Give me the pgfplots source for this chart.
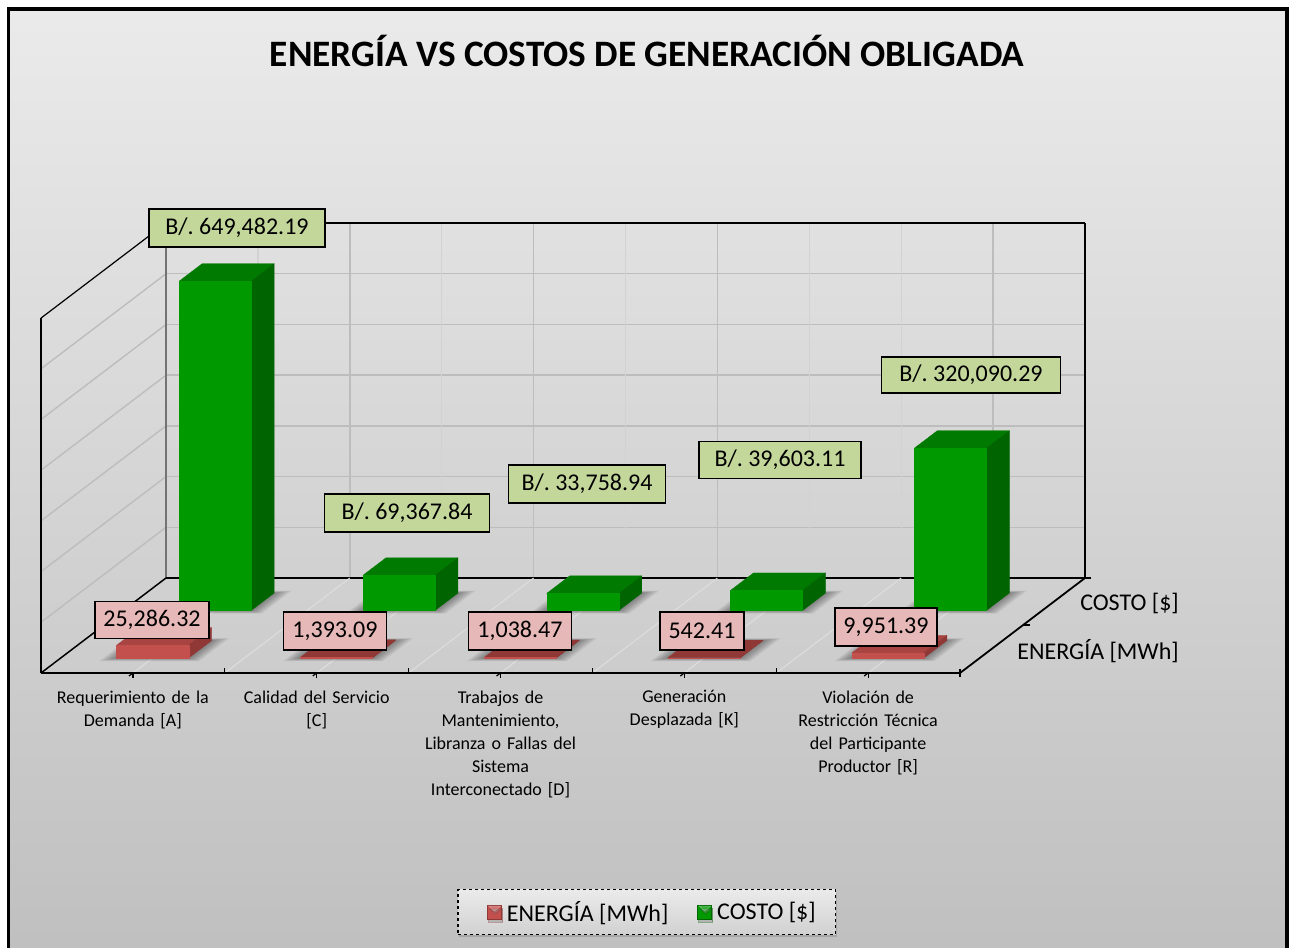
\documentclass[border=0pt]{standalone}
\usepackage{pgfplots}
\pgfplotsset{compat=1.18}
\usepackage{fontspec}
\setmainfont{Carlito}
\usetikzlibrary{shadows}
\definecolor{gfront}{HTML}{009900}
\definecolor{gtop}{HTML}{007A00}
\definecolor{gside}{HTML}{006400}
\definecolor{rfront}{HTML}{C4504E}
\definecolor{rtop}{HTML}{A84442}
\definecolor{rside}{HTML}{8F3836}
\definecolor{gridc}{HTML}{BDBDBD}
\definecolor{gridl}{HTML}{D2D2D2}
\definecolor{floorl}{HTML}{DEDEDE}
\definecolor{boxg}{HTML}{C4D79B}
\definecolor{boxr}{HTML}{E6B8B7}
% one cuboid: category centre, row centre, value (thousands), front, top, side
\newcommand{\cuboid}[6]{%
  \pgfmathsetmacro{\xa}{#1-0.196}\pgfmathsetmacro{\xb}{#1+0.196}%
  \pgfmathsetmacro{\ya}{#2-0.184}\pgfmathsetmacro{\yb}{#2+0.184}%
  \addplot3[forget plot,fill=#5,draw=#5,line width=0.3pt,line join=round] coordinates {(\xa,\ya,#3)(\xb,\ya,#3)(\xb,\yb,#3)(\xa,\yb,#3)} --cycle;
  \addplot3[forget plot,fill=#6,draw=#6,line width=0.3pt,line join=round] coordinates {(\xb,\ya,0)(\xb,\yb,0)(\xb,\yb,#3)(\xb,\ya,#3)} --cycle;
  \addplot3[forget plot,fill=#4,draw=#4,line width=0.3pt,line join=round] coordinates {(\xa,\ya,0)(\xb,\ya,0)(\xb,\ya,#3)(\xa,\ya,#3)} --cycle;
}
% soft floor shadow as stacked translucent footprints
\newcommand{\shadone}[3]{%
  \pgfmathsetmacro{\sa}{#1-0.196-#3*0.9}\pgfmathsetmacro{\sb}{#1+0.196+#3*1.0}%
  \pgfmathsetmacro{\sc}{#2-0.184-#3*0.8}\pgfmathsetmacro{\sd}{#2+0.184+#3*0.6}%
  \addplot3[forget plot,fill=black,fill opacity=0.05,draw=none] coordinates {(\sa,\sc,0)(\sb,\sc,0)(\sb,\sd,0)(\sa,\sd,0)} --cycle;
}
\newcommand{\shad}[2]{\shadone{#1}{#2}{0.08}\shadone{#1}{#2}{0.07}\shadone{#1}{#2}{0.06}\shadone{#1}{#2}{0.05}\shadone{#1}{#2}{0.04}\shadone{#1}{#2}{0.03}\shadone{#1}{#2}{0.02}\shadone{#1}{#2}{0.01}}
\newcommand{\seg}[3][gridc,line width=1.4pt]{\addplot3[forget plot,#1] coordinates {#2 #3};}
\newcommand{\boxlab}[6]{\node[draw=black,line width=1.4pt,fill=#5,minimum width=#3pt,minimum height=#4pt,inner sep=0pt,font=\fontsize{24}{28}\selectfont] at (#1,#2) {\raisebox{-2pt}{#6}};}
\begin{document}
\frenchspacing
\begin{tikzpicture}
\path[use as bounding box] (0pt,0pt) rectangle (1292pt,947pt);
\shade[top color=black!8,bottom color=black!25] (8.5pt,-10pt) rectangle (1287pt,938pt);
\draw[black,line width=3.2pt] (8.5pt,-10pt) -- (8.5pt,938pt) -- (1287pt,938pt) -- (1287pt,-10pt);
\begin{axis}[
  at={(41pt,274pt)},anchor=origin,clip=false,
  x={(183.8pt,0pt)},y={(62.5pt,47.5pt)},z={(0pt,0.507pt)},
  xmin=0,xmax=5,ymin=0,ymax=2,zmin=0,zmax=700,
  axis line style={draw=none},
  ytick=\empty,ztick=\empty,
  xtick={0.5,1.5,2.5,3.5,4.5},
  xticklabels={Requerimiento de la\\Demanda [A],Calidad del Servicio\\{[C]},{Trabajos de\\Mantenimiento,\\Libranza o Fallas del\\Sistema\\Interconectado [D]},Generación\\Desplazada [K],Violación de\\Restricción Técnica\\del Participante\\Productor [R]},
  xticklabel style={align=center,text width=175pt,font=\fontsize{18}{23}\selectfont,anchor=north,yshift=-11pt,xshift=4pt},
  tick align=outside,major tick length=5pt,xtick pos=left,
  x tick style={black,line width=1.2pt},
  legend columns=2,
  legend style={at={(axis cs:3.297,0,-471.4)},anchor=center,draw=black,dashed,line width=1.4pt,
    top color=black!8,bottom color=black!18,drop shadow={opacity=0.4,shadow xshift=1pt,shadow yshift=-3pt},
    font=\fontsize{24}{28}\selectfont,inner xsep=23pt,inner ysep=9.5pt,
    /tikz/every even column/.style={column sep=21pt}},
  legend image code/.code={\path (-6pt,0pt) (17pt,0pt);\draw[#1,solid] (0pt,-7pt) rectangle (14pt,7pt);
     \fill[white,opacity=0.22] (1pt,6pt) -- (13pt,6pt) -- (7pt,1pt) -- cycle;},
]
\addlegendimage{fill=rfront,draw=rside,line width=0.8pt}
\addlegendentry{ENERGÍA [MWh]}
\addlegendimage{fill=gfront,draw=gside,line width=0.8pt}
\addlegendentry{COSTO [\$]\hspace*{-5pt}}
% back wall grid
\seg{(0,2,100)(5,2,100)}{}
\seg{(0,2,200)(5,2,200)}{}
\seg{(0,2,300)(5,2,300)}{}
\seg{(0,2,400)(5,2,400)}{}
\seg{(0,2,500)(5,2,500)}{}
\seg{(0,2,600)(5,2,600)}{}
\seg[gridl,line width=1.2pt]{(0.5,2,0)}{(0.5,2,700)}
\seg{(1,2,0)}{(1,2,700)}
\seg[gridl,line width=1.2pt]{(1.5,2,0)}{(1.5,2,700)}
\seg{(2,2,0)}{(2,2,700)}
\seg[gridl,line width=1.2pt]{(2.5,2,0)}{(2.5,2,700)}
\seg{(3,2,0)}{(3,2,700)}
\seg[gridl,line width=1.2pt]{(3.5,2,0)}{(3.5,2,700)}
\seg[gridl,line width=1.2pt]{(4,2,0)}{(4,2,700)}
\seg{(4.5,2,0)}{(4.5,2,700)}
% left wall grid
\seg{(0,0,100)(0,2,100)}{}
\seg{(0,0,200)(0,2,200)}{}
\seg{(0,0,300)(0,2,300)}{}
\seg{(0,0,400)(0,2,400)}{}
\seg{(0,0,500)(0,2,500)}{}
\seg{(0,0,600)(0,2,600)}{}
% frame
\seg[black!55,line width=1.4pt]{(0,2,0)}{(0,2,700)}
\seg[black,line width=1.2pt]{(0,0,700)}{(0,2,700)}
\seg[black,line width=1.2pt]{(0,2,700)}{(5,2,700)}
\seg[black,line width=1.4pt]{(5,2,0)}{(5,2,700)}
\seg[black,line width=1.5pt]{(0,0,0)}{(0,0,700)}
\seg[black,line width=1.5pt]{(0,2,0)}{(5,2,0)}
% floor lines
\seg[floorl,line width=1pt]{(0.5,0,0)}{(0.5,2,0)}
\seg[floorl,line width=1pt]{(1,0,0)}{(1,2,0)}
\seg[floorl,line width=1pt]{(1.5,0,0)}{(1.5,2,0)}
\seg[floorl,line width=1pt]{(2,0,0)}{(2,2,0)}
\seg[floorl,line width=1pt]{(2.5,0,0)}{(2.5,2,0)}
\seg[floorl,line width=1pt]{(3,0,0)}{(3,2,0)}
\seg[floorl,line width=1pt]{(3.5,0,0)}{(3.5,2,0)}
\seg[floorl,line width=1pt]{(4,0,0)}{(4,2,0)}
\seg[floorl,line width=1pt]{(4.5,0,0)}{(4.5,2,0)}
\seg[black,line width=1.5pt]{(0,0,0)}{(5,0,0)}
\seg[black,line width=1.5pt]{(0,0,0)}{(0,2,0)}
\seg[black,line width=1.8pt]{(5,0,0)}{(5,2,0)}
% small ticks
\seg[black,line width=1.2pt]{(1,0,0)}{(1,0,10)}
\seg[black,line width=1.2pt]{(2,0,0)}{(2,0,10)}
\seg[black,line width=1.2pt]{(3,0,0)}{(3,0,10)}
\seg[black,line width=1.2pt]{(4,0,0)}{(4,0,10)}
\seg[black,line width=2pt]{(5,1,0)}{(5.04,1,0)}
\seg[black,line width=2pt]{(5,2,0)}{(5.035,2,0)}
\seg[black,line width=1.4pt]{(5,0,-8)}{(5,0,8)}
% shadows
\shad{0.5}{1.5}\shad{1.5}{1.5}\shad{2.5}{1.5}\shad{3.5}{1.5}\shad{4.5}{1.5}
\shad{0.5}{0.5}\shad{1.5}{0.5}\shad{2.5}{0.5}\shad{3.5}{0.5}\shad{4.5}{0.5}
% COSTO [$], thousands
\cuboid{0.5}{1.5}{649.48219}{gfront}{gtop}{gside}
\cuboid{1.5}{1.5}{69.36784}{gfront}{gtop}{gside}
\cuboid{2.5}{1.5}{33.75894}{gfront}{gtop}{gside}
\cuboid{3.5}{1.5}{39.60311}{gfront}{gtop}{gside}
\cuboid{4.5}{1.5}{320.09029}{gfront}{gtop}{gside}
% ENERGIA [MWh], thousands
\cuboid{0.5}{0.5}{25.28632}{rfront}{rtop}{rside}
\cuboid{1.5}{0.5}{1.39309}{rfront}{rside}{rside}
\cuboid{2.5}{0.5}{1.03847}{rfront}{rside}{rside}
\cuboid{3.5}{0.5}{0.54241}{rfront}{rside}{rside}
\cuboid{4.5}{0.5}{9.95139}{rfront}{rtop}{rside}
\end{axis}
\begin{scope}[x=1pt,y=-1pt,shift={(0pt,947pt)}]
\node[font=\fontsize{37.3}{42}\selectfont\bfseries] at (647,51) {ENERGÍA VS COSTOS DE GENERACIÓN OBLIGADA};
\node[anchor=east,inner sep=0pt,font=\fontsize{24}{28}\selectfont] at (1179,603) {COSTO [\$]};
\node[anchor=east,inner sep=0pt,font=\fontsize{24}{28}\selectfont] at (1179,651) {ENERGÍA [MWh]};
\boxlab{237}{228}{176}{38}{boxg}{B/. 649,482.19}
\boxlab{407}{513}{165}{38}{boxg}{B/. 69,367.84}
\boxlab{587}{484}{157}{38}{boxg}{B/. 33,758.94}
\boxlab{780}{460}{162}{37}{boxg}{B/. 39,603.11}
\boxlab{971}{375}{179}{36}{boxg}{B/. 320,090.29}
\boxlab{152}{620}{114}{37}{boxr}{25,286.32}
\boxlab{335}{631}{103}{38}{boxr}{1,393.09}
\boxlab{520}{631}{103}{38}{boxr}{1,038.47}
\boxlab{702}{631}{84}{38}{boxr}{542.41}
\boxlab{886}{627}{102}{38}{boxr}{9,951.39}
\end{scope}
\end{tikzpicture}
\end{document}
